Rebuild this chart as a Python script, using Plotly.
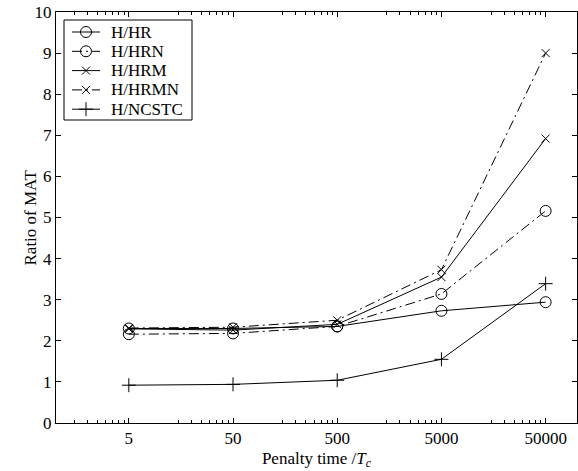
import plotly.graph_objects as go

# Penalty times (in units of T_c)
penalty = [5, 50, 500, 5000, 50000]

# Ratio of MAT for each method pair
h_hr = [2.30, 2.30, 2.35, 2.73, 2.94]
h_hrn = [2.16, 2.18, 2.35, 3.14, 5.16]
h_hrm = [2.29, 2.26, 2.40, 3.55, 6.92]
h_hrmn = [2.31, 2.33, 2.50, 3.73, 9.00]
h_ncstc = [0.92, 0.94, 1.04, 1.55, 3.39]

x_ticks = [5, 50, 500, 5000, 50000]
y_ticks = list(range(0, 11))

FONT = "Liberation Serif"
DASHDOT = "10px,4px,2px,4px"

W, H = 578, 471
ML, MR, MT, MB = 56, 1, 12, 48
PW, PH = W - ML - MR, H - MT - MB

series = [
    ("H/HR", h_hr, "circle-open", "solid", 11),
    ("H/HRN", h_hrn, "circle-open", DASHDOT, 11),
    ("H/HRM", h_hrm, "x-thin-open", "solid", 8),
    ("H/HRMN", h_hrmn, "x-thin-open", DASHDOT, 8),
    ("H/NCSTC", h_ncstc, "cross-thin-open", "solid", 10),
]


def px_x(p):
    return (p - ML) / PW


def px_y(p):
    return 1 - (p - MT) / PH


fig = go.Figure()
for name, vals, sym, dash, size in series:
    fig.add_trace(go.Scatter(
        x=penalty, y=vals, name=name, mode="lines+markers",
        line=dict(color="black", width=1, dash=dash),
        marker=dict(symbol=sym, size=size, color="black",
                    line=dict(color="black", width=1)),
        showlegend=False,
    ))

# Hand-built legend box in the upper-left corner
box_l, box_r, box_t, box_b = 64, 192, 20, 120
row0, row_h = 32, 19.3
samp_l, samp_r, text_x = 72, 100, 109
shapes = [dict(type="rect", xref="paper", yref="paper",
               x0=px_x(box_l), x1=px_x(box_r), y0=px_y(box_b), y1=px_y(box_t),
               line=dict(color="black", width=1), fillcolor="white",
               layer="below")]
annotations = []
for i, (name, vals, sym, dash, size) in enumerate(series):
    yc = row0 + i * row_h
    shapes.append(dict(type="line", xref="paper", yref="paper",
                       x0=px_x(samp_l), x1=px_x(samp_r),
                       y0=px_y(yc), y1=px_y(yc),
                       line=dict(color="black", width=1, dash=dash)))
    fig.add_trace(go.Scatter(
        x=[px_x((samp_l + samp_r) / 2)], y=[px_y(yc)],
        xaxis="x2", yaxis="y2", mode="markers", showlegend=False,
        hoverinfo="skip", cliponaxis=False,
        marker=dict(symbol=sym, size=size, color="black",
                    line=dict(color="black", width=1)),
    ))
    annotations.append(dict(
        text=name, xref="paper", yref="paper", x=px_x(text_x), y=px_y(yc),
        xanchor="left", yanchor="middle", showarrow=False,
        font=dict(family=FONT, size=17, color="black"),
    ))

annotations.append(dict(
    text="Ratio of MAT", textangle=-90,
    xref="paper", yref="paper", x=px_x(30), y=0.5,
    xanchor="center", yanchor="middle", showarrow=False,
    font=dict(family=FONT, size=17, color="black"),
))

# minor ticks at k * 0.5 * 10^n (k = 3..9) between the labelled ticks
minor_vals = [0.5 * k * 10 ** n for n in range(0, 5) for k in range(3, 10)]

fig.update_layout(
    width=W, height=H,
    margin=dict(l=ML, r=MR, t=MT, b=MB),
    paper_bgcolor="white", plot_bgcolor="white",
    font=dict(family=FONT, size=17, color="black"),
    showlegend=False,
    shapes=shapes,
    annotations=annotations,
    xaxis=dict(
        type="log", range=[0, 5],
        tickmode="array", tickvals=x_ticks, ticktext=[str(v) for v in x_ticks],
        ticks="inside", ticklen=5, tickcolor="black", tickwidth=1,
        minor=dict(tickmode="array", tickvals=minor_vals, ticks="inside",
                   ticklen=3, tickcolor="black", tickwidth=1, showgrid=False),
        showline=True, linecolor="black", linewidth=1, mirror="ticks",
        showgrid=False, zeroline=False,
        tickfont=dict(family=FONT, size=17, color="black"),
        title=dict(text="Penalty time /<i>T<sub>c</sub></i>", standoff=4,
                   font=dict(family=FONT, size=17, color="black")),
    ),
    yaxis=dict(
        range=[0, 10],
        tickmode="array", tickvals=y_ticks, ticktext=[str(v) for v in y_ticks],
        ticks="inside", ticklen=5, tickcolor="black", tickwidth=1,
        showline=True, linecolor="black", linewidth=1, mirror="ticks",
        showgrid=False, zeroline=False,
        tickfont=dict(family=FONT, size=17, color="black"),
    ),
    xaxis2=dict(overlaying="x", range=[0, 1], visible=False, fixedrange=True),
    yaxis2=dict(overlaying="y", range=[0, 1], visible=False, fixedrange=True),
)

fig.write_html("out.html")
